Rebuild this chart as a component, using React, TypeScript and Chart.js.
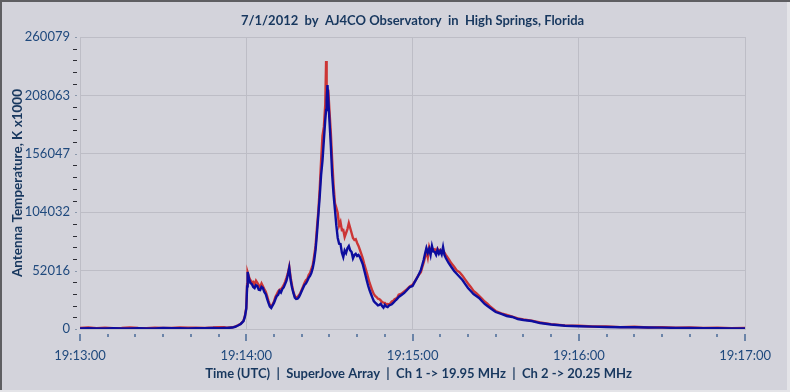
import React, { useEffect, useRef } from "react";
import { Chart, registerables } from "chart.js";

Chart.register(...registerables);

const TITLE = "7/1/2012  by  AJ4CO Observatory  in  High Springs, Florida";
const X_TITLE = "Time (UTC)  |  SuperJove Array  |  Ch 1 -> 19.95 MHz  |  Ch 2 -> 20.25 MHz";
const Y_TITLE = "Antenna Temperature, K x1000";

const yMajorTicks = [0, 52016, 104032, 156047, 208063, 260079];
const xTickLabels = ["19:13:00", "19:14:00", "19:15:00", "19:16:00", "19:17:00"];
const xMinorStepSec = 10;
const xMaxSec = 240;

// seconds after 19:13:00
const seconds = [
  0, 3, 6, 9, 12, 15, 18, 21, 24, 27, 30, 33, 36, 39, 42, 45, 48, 50, 52, 53, 54,
  55, 56, 57, 58, 59, 59.5, 60, 60.3, 60.5, 61, 61.5, 62, 62.5, 63, 63.5, 64, 64.5, 65, 65.5,
  66, 66.5, 67, 67.5, 68, 68.5, 69, 69.5, 70, 70.5, 71, 71.5, 72, 72.5, 73, 73.5, 74, 74.5,
  75, 75.5, 76, 76.5, 77, 77.5, 78, 78.5, 79, 79.5, 80, 80.5, 81, 81.5, 82, 82.5, 83, 83.5,
  84, 84.5, 85, 85.5, 86, 86.5, 87, 87.5, 88, 88.5, 88.8, 89, 89.3, 89.7, 90, 90.5, 91, 91.5,
  92, 92.5, 93, 93.5, 94, 94.5, 95, 95.5, 96, 96.5, 97, 97.5, 98, 98.5, 99, 99.5, 100, 100.5,
  101, 101.5, 102, 102.5, 103, 103.5, 104, 104.5, 105, 105.5, 106, 106.5, 107, 107.5, 108,
  108.5, 109, 109.5, 110, 110.5, 111, 111.5, 112, 112.5, 113, 113.5, 114, 114.5, 115, 116,
  117, 118, 119, 120, 121, 122, 123, 123.5, 124, 124.5, 125, 125.5, 126, 126.5, 127, 127.5,
  128, 128.5, 129, 129.5, 130, 130.5, 131, 131.5, 132, 133, 134, 135, 136, 137, 138, 139,
  140, 141, 142, 143, 144, 145, 146, 147, 148, 149, 150, 152, 154, 156, 158, 160, 163, 166,
  170, 175, 180, 185, 190, 195, 200, 205, 210, 215, 220, 225, 230, 235, 240,
];

// Ch 2 -> 20.25 MHz (blue)
const ch2 = [
  600, 700, 500, 600, 700, 500, 600, 700, 500, 600, 900, 700, 800, 600, 700, 800, 900, 800, 1000, 900, 1100,
  1300, 2000, 3100, 4500, 7100, 11000, 18000, 38000, 50800, 44500, 41000, 40000, 37500, 36500, 39000, 38300, 35000, 34700, 37500,
  36500, 33000, 31200, 27000, 23200, 20000, 18700, 21000, 23200, 26500, 29400, 30500, 33800, 32500, 35600, 37000, 40000, 43000,
  48100, 54300, 43600, 37000, 32100, 28000, 26700, 27000, 28500, 31000, 33800, 36500, 39200, 40500, 42800, 45500, 47200, 50000,
  54300, 61000, 70400, 85000, 101500, 118000, 137200, 150000, 168300, 186200, 195000, 204000, 217300, 199500, 186200, 163900, 137200, 119400,
  106000, 92000, 81100, 76000, 75700, 68000, 64100, 70000, 67700, 72000, 73900, 70000, 68600, 63000, 65900, 67000, 65000, 66000,
  64100, 61000, 57900, 53000, 48100, 43000, 38300, 34500, 31200, 28000, 24900, 23500, 22300, 21000, 21400,
  22500, 20500, 19000, 21400, 20000, 19600, 21000, 21400, 22000, 23200, 24500, 25800, 27000, 28500, 30300,
  32100, 34700, 37400, 38300, 42800, 47200, 52600, 57000, 61500, 67000, 72100, 68000, 71300, 66000, 73900, 69000,
  68600, 66000, 70400, 67000, 69500, 66500, 73000, 66000, 63200, 58800, 55200, 51700, 49000, 46300, 43600, 40000,
  36500, 33800, 31200, 29400, 27600, 24900, 22300, 20500, 18700, 16900, 15100, 13400, 11600, 10700, 8900, 8000, 7100, 5300,
  4000, 2900, 2400, 2100, 1800, 1600, 1500, 1300, 1200, 1000, 900, 800, 700, 600, 500,
];

// Ch 1 -> 19.95 MHz (red)
const ch1 = [
  900, 1300, 800, 1200, 800, 1000, 1400, 900, 700, 1200, 1000, 900, 1300, 1100, 1200, 1000, 1300, 1700, 1500, 1200, 1400,
  1500, 2200, 3300, 4700, 7400, 11500, 19000, 40000, 50200, 46000, 43500, 41500, 42000, 39500, 43000, 41000, 39000, 37500, 40500,
  38000, 35500, 33500, 29500, 25000, 21500, 20000, 22000, 24500, 28500, 31000, 33500, 35000, 35500, 37000, 39000, 42000, 45500,
  49500, 55500, 46000, 39000, 33000, 29500, 27500, 28500, 30000, 32000, 35000, 38000, 41000, 43500, 44500, 48000, 50000, 53500,
  57000, 65000, 74000, 90000, 105000, 125000, 150000, 172000, 180000, 200000, 238700, 210000, 205000, 208000, 195000, 175000, 150000, 128000,
  112000, 108000, 103300, 92000, 95300, 88000, 88200, 82000, 85500, 89000, 94400, 90000, 85500, 81000, 79300, 80000, 76600, 74000,
  70400, 67000, 63200, 58500, 54300, 50000, 45400, 41000, 37400, 34000, 31200, 29500, 28500, 27000, 26700,
  25500, 24000, 23500, 23200, 22000, 22300, 21500, 23000, 24500, 25000, 26500, 27000, 28000, 30500, 31500,
  33500, 35500, 38000, 39500, 43000, 47500, 50500, 55000, 59000, 64000, 70000, 64000, 73000, 69000, 72000, 70500,
  71000, 68000, 71500, 69000, 70500, 69000, 70000, 68000, 66000, 62500, 58500, 55500, 52000, 50500, 47500, 44000,
  40500, 37500, 34000, 32000, 29500, 27000, 24500, 22500, 20000, 18000, 16000, 14000, 12500, 11000, 9500, 8500, 7500, 5800,
  4300, 3200, 2900, 2200, 2300, 1700, 2000, 1400, 1700, 1100, 1400, 900, 1100, 800, 900,
];

const TEXT_COLOR = "#1f497d";
const TITLE_COLOR = "#17375e";
const GRID_COLOR = "#bdbdc6";
const BG_COLOR = "#d3d3db";
const FONT = "Lato";

function buildYTicks(): number[] {
  const out: number[] = [];
  for (let i = 0; i < yMajorTicks.length - 1; i++) {
    const a = yMajorTicks[i];
    const b = yMajorTicks[i + 1];
    for (let k = 0; k < 5; k++) out.push(a + ((b - a) * k) / 5);
  }
  out.push(yMajorTicks[yMajorTicks.length - 1]);
  return out;
}

function buildXTicks(): number[] {
  const out: number[] = [];
  for (let s = 0; s <= xMaxSec; s += xMinorStepSec) out.push(s);
  return out;
}

const yTickValues = buildYTicks();
const xTickValues = buildXTicks();

const decorPlugin = {
  id: "decor",
  beforeDraw(chart: any) {
    const ctx = chart.ctx;
    const w = chart.width;
    const h = chart.height;
    ctx.save();
    ctx.fillStyle = BG_COLOR;
    ctx.fillRect(0, 0, w, h);
    ctx.fillStyle = "#e4e4e8";
    ctx.fillRect(w - 3, 0, 3, h);
    ctx.fillRect(0, h - 2, w, 2);
    ctx.fillStyle = "#5e5e62";
    ctx.fillRect(0, 0, w, 2);
    ctx.fillRect(0, 0, 2, h - 2);
    ctx.restore();
  },
  afterDraw(chart: any) {
    const ctx = chart.ctx;
    const { left, right, top, bottom } = chart.chartArea;
    const xs = chart.scales.x;
    const ys = chart.scales.y;
    ctx.save();
    // x tick marks
    ctx.strokeStyle = "#6b84a8";
    ctx.lineWidth = 2;
    for (const s of xTickValues) {
      const px = Math.round(xs.getPixelForValue(s));
      const major = s % 60 === 0;
      ctx.beginPath();
      ctx.moveTo(px, bottom + 5);
      ctx.lineTo(px, bottom + (major ? 12 : 8));
      ctx.stroke();
    }
    // y tick marks
    ctx.lineWidth = 1;
    for (const v of yTickValues) {
      const py = Math.round(ys.getPixelForValue(v)) + 0.5;
      const major = yMajorTicks.includes(v);
      ctx.strokeStyle = major ? "#8a97aa" : "#2c2c34";
      ctx.beginPath();
      ctx.moveTo(left - (major ? 5 : 7), py);
      ctx.lineTo(left - 3, py);
      ctx.stroke();
    }
    // titles
    ctx.fillStyle = TITLE_COLOR;
    ctx.font = `bold 13px ${FONT}`;
    ctx.textAlign = "center";
    ctx.textBaseline = "middle";
    ctx.fillText(TITLE, (left + right) / 2, 21);
    ctx.fillText(X_TITLE, (left + right) / 2 + 6, 374);
    ctx.font = `bold 13.5px ${FONT}`;
    ctx.translate(18, (top + bottom) / 2);
    ctx.rotate(-Math.PI / 2);
    ctx.fillText(Y_TITLE, 0, 0);
    ctx.restore();
  },
};

export default function App() {
  const ref = useRef<HTMLCanvasElement | null>(null);

  useEffect(() => {
    document.body.style.margin = "0";
    const canvas = ref.current;
    if (!canvas) return;
    const chart = new Chart(canvas, {
      type: "line",
      data: {
        datasets: [
          {
            label: "Ch 2 -> 20.25 MHz",
            data: seconds.map((s, i) => ({ x: s, y: ch2[i] })),
            borderColor: "#0d0d9e",
            borderWidth: 2.4,
            pointRadius: 0,
            tension: 0,
            order: 0,
          },
          {
            label: "Ch 1 -> 19.95 MHz",
            data: seconds.map((s, i) => ({ x: s, y: ch1[i] })),
            borderColor: "#cc3535",
            borderWidth: 2.4,
            pointRadius: 0,
            tension: 0,
            order: 1,
          },
        ],
      },
      options: {
        animation: false,
        responsive: false,
        maintainAspectRatio: false,
        layout: { padding: { top: 37, right: 43, left: 0, bottom: 0 } },
        plugins: {
          legend: { display: false },
          tooltip: { enabled: false },
          title: { display: false },
        },
        scales: {
          x: {
            type: "linear",
            min: 0,
            max: xMaxSec,
            afterBuildTicks: (s: any) => {
              s.ticks = xTickValues.map((v) => ({ value: v }));
            },
            afterFit: (s: any) => {
              s.height = 63;
            },
            grid: {
              color: (c: any) =>
                c.tick && c.tick.value % 60 === 0 ? GRID_COLOR : "rgba(0,0,0,0)",
              drawTicks: false,
              lineWidth: 1,
            },
            border: { display: true, color: GRID_COLOR },
            ticks: {
              autoSkip: false,
              maxRotation: 0,
              padding: 19,
              color: TEXT_COLOR,
              font: { family: FONT, size: 13 },
              callback: (v: any) => (Number(v) % 60 === 0 ? xTickLabels[Number(v) / 60] : ""),
            },
          },
          y: {
            type: "linear",
            min: 0,
            max: yMajorTicks[yMajorTicks.length - 1],
            afterBuildTicks: (s: any) => {
              s.ticks = yTickValues.map((v) => ({ value: v }));
            },
            afterFit: (s: any) => {
              s.width = 80;
            },
            grid: {
              color: (c: any) =>
                c.tick && yMajorTicks.includes(c.tick.value) ? GRID_COLOR : "rgba(0,0,0,0)",
              drawTicks: false,
              lineWidth: 1,
            },
            border: { display: true, color: GRID_COLOR },
            ticks: {
              autoSkip: false,
              padding: 10,
              color: TEXT_COLOR,
              font: { family: FONT, size: 13 },
              callback: (v: any) => (yMajorTicks.includes(Number(v)) ? String(v) : ""),
            },
          },
        },
      },
      plugins: [decorPlugin],
    });
    return () => chart.destroy();
  }, []);

  return (
    <div style={{ width: 790, height: 392 }}>
      <canvas ref={ref} width={790} height={392} style={{ display: "block" }} />
    </div>
  );
}
